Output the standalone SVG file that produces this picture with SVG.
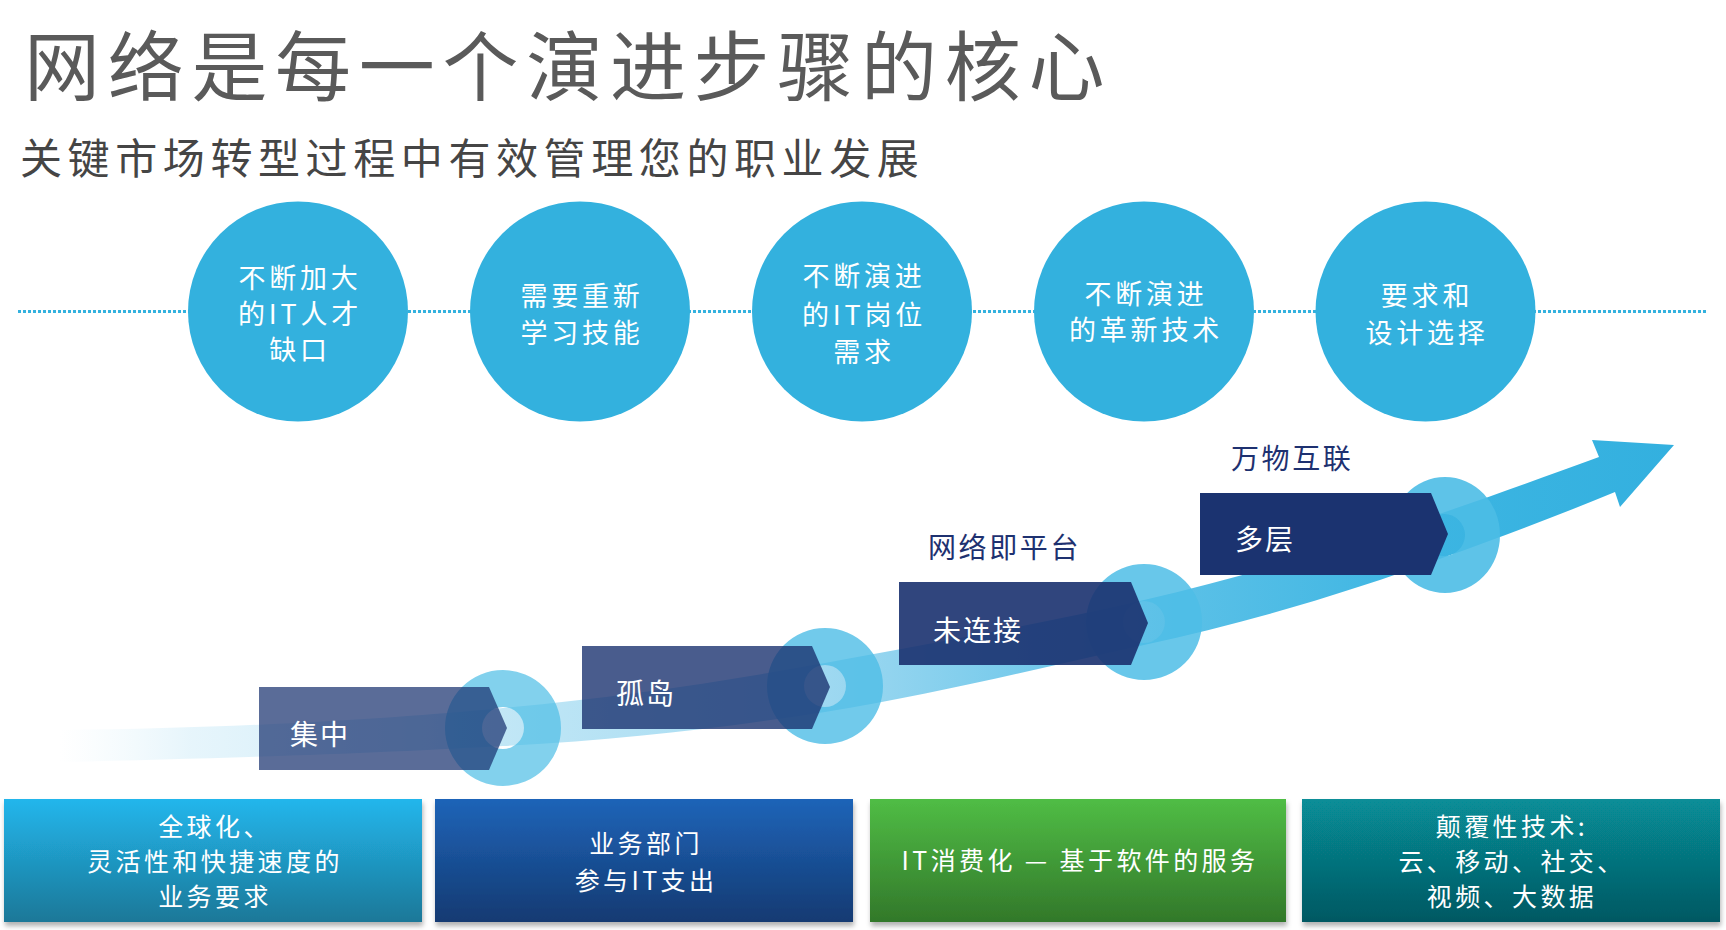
<svg xmlns="http://www.w3.org/2000/svg" width="1726" height="930" viewBox="0 0 1726 930">
<style>
.cjk{font-family:"Noto Sans CJK SC","Liberation Sans",sans-serif}
.title{font-size:76px;fill:#5a5a5a;letter-spacing:7.7px}
.sub{font-size:42px;fill:#454545;letter-spacing:5.6px}
.ct{font-size:27px;fill:#ffffff;letter-spacing:3.8px;text-anchor:middle}
.bt{font-size:28px;fill:#ffffff;letter-spacing:2px}
.lbl{font-size:28px;fill:#1e3170;letter-spacing:2.6px}
.ft{font-size:25px;fill:#ffffff;letter-spacing:3.4px;text-anchor:middle}
.circ{fill:#33b1de}
.ring{fill:#4dbde6;fill-rule:evenodd}
.box{fill:#1b3370}
</style>
<defs>
<linearGradient id="band" gradientUnits="userSpaceOnUse" x1="60" y1="0" x2="1674" y2="0">
<stop offset="0" stop-color="#e6f5fb" stop-opacity="0"/>
<stop offset="0.08" stop-color="#dcf1fa" stop-opacity="0.7"/>
<stop offset="0.27" stop-color="#c2e7f6"/>
<stop offset="0.47" stop-color="#a0d9f1"/>
<stop offset="0.67" stop-color="#5fc2e8"/>
<stop offset="0.85" stop-color="#3cb5e2"/>
<stop offset="1" stop-color="#33b0df"/>
</linearGradient>
<linearGradient id="g1" x1="0" y1="0" x2="0" y2="1"><stop offset="0" stop-color="#22b6ec"/><stop offset="1" stop-color="#1c7898"/></linearGradient>
<linearGradient id="g2" x1="0" y1="0" x2="0" y2="1"><stop offset="0" stop-color="#1f64b8"/><stop offset="1" stop-color="#133a72"/></linearGradient>
<linearGradient id="g3" x1="0" y1="0" x2="0" y2="1"><stop offset="0" stop-color="#50bd45"/><stop offset="1" stop-color="#32782a"/></linearGradient>
<linearGradient id="g4" x1="0" y1="0" x2="0" y2="1"><stop offset="0" stop-color="#078e98"/><stop offset="1" stop-color="#055862"/></linearGradient>
<filter id="sh" x="-5%" y="-10%" width="110%" height="125%">
<feDropShadow dx="1" dy="4" stdDeviation="2.5" flood-color="#000000" flood-opacity="0.3"/>
</filter>
</defs>

<g id="title" class="cjk">
<text class="title" x="24" y="95">网络是每一个演进步骤的核心</text>
<text class="sub" x="20" y="174">关键市场转型过程中有效管理您的职业发展</text>
</g>

<g id="connectors">
<line x1="18" y1="311.5" x2="1708" y2="311.5" stroke="#33b1de" stroke-width="3" stroke-dasharray="3 2"/>
<path id="growth-arrow" fill="url(#band)" d="M 60 730 C 250 728, 400 718, 503 708 C 620 697, 720 682, 825 663 C 940 642, 1040 624, 1144 600 C 1250 575, 1350 545, 1445 512 C 1500 493, 1550 475, 1599 457 L 1592 440 L 1674 445 L 1620 507 L 1615 492 C 1560 515, 1500 537, 1445 557 C 1350 592, 1250 622, 1144 645 C 1040 668, 940 693, 825 712 C 720 728, 620 740, 503 746 C 400 752, 250 758, 60 762 Z"/>
</g>

<g id="c1" class="cjk"><circle class="circ" cx="298" cy="311.5" r="110"/>
<text class="ct" x="300" y="288">不断加大</text><text class="ct" x="300" y="324">的IT人才</text><text class="ct" x="300" y="360">缺口</text></g>
<g id="c2" class="cjk"><circle class="circ" cx="580" cy="311.5" r="110"/>
<text class="ct" x="582" y="306">需要重新</text><text class="ct" x="582" y="343">学习技能</text></g>
<g id="c3" class="cjk"><circle class="circ" cx="862" cy="311.5" r="110"/>
<text class="ct" x="864" y="286">不断演进</text><text class="ct" x="864" y="325">的IT岗位</text><text class="ct" x="864" y="362">需求</text></g>
<g id="c4" class="cjk"><circle class="circ" cx="1144" cy="311.5" r="110"/>
<text class="ct" x="1146" y="304">不断演进</text><text class="ct" x="1146" y="340">的革新技术</text></g>
<g id="c5" class="cjk"><circle class="circ" cx="1425.5" cy="311.5" r="110"/>
<text class="ct" x="1427" y="306">要求和</text><text class="ct" x="1427" y="343">设计选择</text></g>

<g id="ring1"><path class="ring" opacity="0.7" d="M445 728a58 58 0 1 0 116 0a58 58 0 1 0 -116 0Z M482 728a21 21 0 1 0 42 0a21 21 0 1 0 -42 0Z"/></g>
<g id="ring2"><path class="ring" opacity="0.8" d="M767 686a58 58 0 1 0 116 0a58 58 0 1 0 -116 0Z M804 686a21 21 0 1 0 42 0a21 21 0 1 0 -42 0Z"/></g>
<g id="ring3"><path class="ring" opacity="0.85" d="M1086 622a58 58 0 1 0 116 0a58 58 0 1 0 -116 0Z M1123 622a21 21 0 1 0 42 0a21 21 0 1 0 -42 0Z"/></g>
<g id="ring4"><path class="ring" opacity="0.9" d="M1390 535a55 58 0 1 0 110 0a55 58 0 1 0 -110 0Z M1423 535a21 21 0 1 0 42 0a21 21 0 1 0 -42 0Z"/></g>

<g id="step1" class="cjk"><polygon class="box" opacity="0.72" points="259,687 489,687 507,728 489,770 259,770"/><text class="bt" x="290" y="745">集中</text></g>
<g id="step2" class="cjk"><polygon class="box" opacity="0.8" points="582,646 812,646 830,687 812,729 582,729"/><text class="bt" x="616" y="704">孤岛</text></g>
<g id="step3" class="cjk"><polygon class="box" opacity="0.91" points="899,582 1131,582 1148,623 1131,665 899,665"/><text class="bt" x="933" y="641">未连接</text>
<text class="lbl" x="928" y="558">网络即平台</text></g>
<g id="step4" class="cjk"><polygon class="box" points="1200,493 1431,493 1448,534 1431,575 1200,575"/><text class="bt" x="1235" y="550">多层</text>
<text class="lbl" x="1231" y="469">万物互联</text></g>

<g id="b1" class="cjk"><rect x="4" y="799" width="418" height="123" fill="url(#g1)" filter="url(#sh)"/>
<text class="ft" x="215" y="836">全球化、</text><text class="ft" x="215" y="871">灵活性和快捷速度的</text><text class="ft" x="215" y="906">业务要求</text></g>
<g id="b2" class="cjk"><rect x="435" y="799" width="418" height="123" fill="url(#g2)" filter="url(#sh)"/>
<text class="ft" x="646" y="853">业务部门</text><text class="ft" x="646" y="890">参与IT支出</text></g>
<g id="b3" class="cjk"><rect x="870" y="799" width="416" height="123" fill="url(#g3)" filter="url(#sh)"/>
<text class="ft" x="1080" y="870">IT消费化 — 基于软件的服务</text></g>
<g id="b4" class="cjk"><rect x="1302" y="799" width="418" height="123" fill="url(#g4)" filter="url(#sh)"/>
<text class="ft" x="1512" y="836">颠覆性技术:</text><text class="ft" x="1512" y="871">云、移动、社交、</text><text class="ft" x="1512" y="906">视频、大数据</text></g>
</svg>
